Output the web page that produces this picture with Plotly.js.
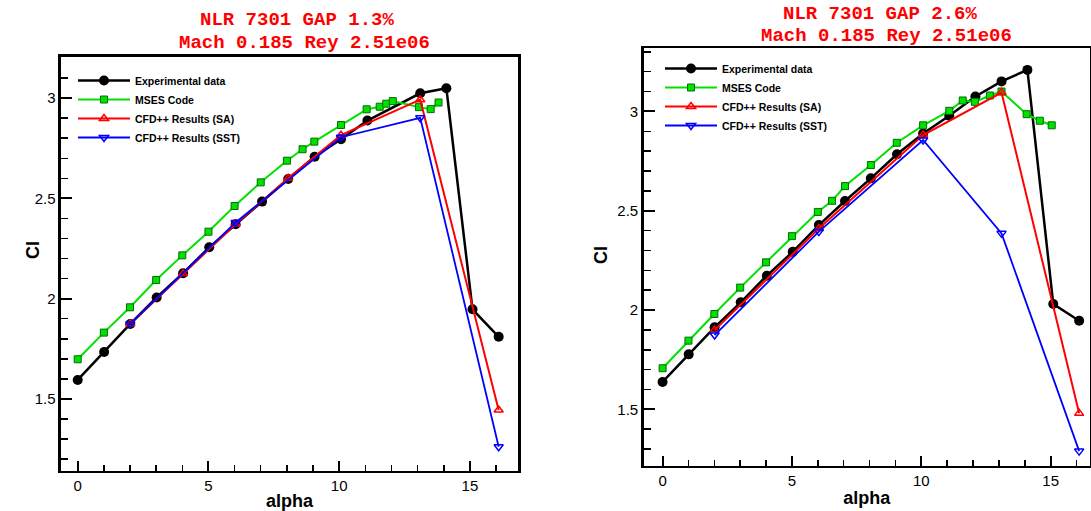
<!DOCTYPE html>
<html>
<head>
<meta charset="utf-8">
<script src="https://cdn.plot.ly/plotly-3.0.1.min.js"></script>
<style>html,body{margin:0;padding:0;background:#fff;}#chart{width:1091px;height:511px;}</style>
</head>
<body>
<div id="chart"></div>
<script>
// ---------- Data: NLR 7301, GAP 1.3% ----------
const exp13Alpha  = [0, 1.01, 2.01, 3.02, 4.03, 5.03, 6.04, 7.05, 8.05, 9.06, 10.07, 11.08, 13.1, 14.1, 15.1, 16.1];
const exp13Cl     = [1.595, 1.734, 1.874, 2.006, 2.127, 2.256, 2.371, 2.484, 2.597, 2.708, 2.795, 2.888, 3.024, 3.049, 1.947, 1.81];
const mses13Alpha = [0, 1, 2, 3, 4, 5, 6, 7, 8, 8.6, 9.05, 10.07, 11.05, 11.55, 11.8, 12.05, 13.05, 13.5, 13.8];
const mses13Cl    = [1.698, 1.831, 1.957, 2.093, 2.216, 2.334, 2.462, 2.58, 2.688, 2.745, 2.783, 2.866, 2.944, 2.957, 2.972, 2.985, 2.955, 2.945, 2.978];
const sa13Alpha   = [2.01, 4.03, 6.04, 8.05, 10.07, 13.1, 16.1];
const sa13Cl      = [1.874, 2.125, 2.372, 2.6, 2.815, 2.992, 1.445];
const sst13Alpha  = [2.01, 6.04, 10.07, 13.1, 16.1];
const sst13Cl     = [1.874, 2.38, 2.805, 2.902, 1.262];

// ---------- Data: NLR 7301, GAP 2.6% ----------
const exp26Alpha  = [0, 1.01, 2.01, 3.02, 4.03, 5.03, 6.04, 7.05, 8.05, 9.06, 10.07, 11.08, 12.09, 13.1, 14.1, 15.1, 16.1];
const exp26Cl     = [1.638, 1.777, 1.913, 2.039, 2.173, 2.293, 2.428, 2.549, 2.663, 2.784, 2.889, 2.978, 3.075, 3.151, 3.209, 2.03, 1.946];
const mses26Alpha = [0, 1, 2, 3, 4, 5, 6, 6.55, 7.05, 8.05, 9.05, 10.07, 11.08, 11.6, 12.07, 12.65, 13.1, 14.07, 14.58, 15.04];
const mses26Cl    = [1.707, 1.846, 1.98, 2.113, 2.24, 2.372, 2.494, 2.55, 2.624, 2.73, 2.842, 2.93, 3.003, 3.055, 3.048, 3.08, 3.1, 2.986, 2.953, 2.93];
const sa26Alpha   = [2.01, 6.04, 10.07, 13.1, 16.1];
const sa26Cl      = [1.899, 2.41, 2.881, 3.095, 1.48];
const sst26Alpha  = [2.01, 6.04, 10.07, 13.1, 16.1];
const sst26Cl     = [1.874, 2.395, 2.856, 2.386, 1.29];

const seriesNames = ['Experimental data', 'MSES Code', 'CFD++ Results (SA)', 'CFD++ Results (SST)'];
const titles13 = ['NLR 7301 GAP 1.3%', 'Mach 0.185 Rey 2.51e06'];
const titles26 = ['NLR 7301 GAP 2.6%', 'Mach 0.185 Rey 2.51e06'];

// ---------- Styles ----------
const GREEN = 'rgb(0,225,0)';
const styles = [
  {line: {color: 'black', width: 2.5}, marker: {symbol: 'circle', size: 10, color: 'black'}},
  {line: {color: GREEN, width: 2}, marker: {symbol: 'square', size: 7, color: GREEN, line: {color: 'rgb(0,110,0)', width: 1}}},
  {line: {color: 'red', width: 2}, marker: {symbol: 'triangle-up-open', size: 8, color: 'red', line: {width: 1.5}}},
  {line: {color: 'blue', width: 1.8}, marker: {symbol: 'triangle-down-open', size: 8, color: 'blue', line: {width: 1.5}}}
];

function makeTraces(sets, xa, ya, legend) {
  return sets.map((s, i) => ({
    type: 'scatter', mode: 'lines+markers',
    x: s[0], y: s[1], name: seriesNames[i],
    xaxis: xa, yaxis: ya, legend: legend,
    line: styles[i].line, marker: styles[i].marker
  }));
}

const traces = [
  ...makeTraces([[exp13Alpha, exp13Cl], [mses13Alpha, mses13Cl], [sa13Alpha, sa13Cl], [sst13Alpha, sst13Cl]], 'x', 'y', 'legend'),
  ...makeTraces([[exp26Alpha, exp26Cl], [mses26Alpha, mses26Cl], [sa26Alpha, sa26Cl], [sst26Alpha, sst26Cl]], 'x2', 'y2', 'legend2')
];

const tickFont = {family: 'Liberation Sans, Arial, sans-serif', size: 15, color: 'black'};
const titleFont = {family: 'Liberation Sans, Arial, sans-serif', size: 18, color: 'black', weight: 'bold'};

function xAxis(domain, range, anchor) {
  return {
    domain: domain, range: range, anchor: anchor,
    showline: true, linewidth: 2.5, linecolor: 'black', mirror: true,
    showgrid: false, zeroline: false,
    tickmode: 'linear', tick0: 0, dtick: 5,
    ticks: 'inside', ticklen: 10, tickwidth: 2, tickcolor: 'black',
    minor: {tickmode: 'linear', dtick: 1, ticks: 'inside', ticklen: 6, tickwidth: 1.5, tickcolor: 'black', showgrid: false},
    tickfont: tickFont,
    title: {text: 'alpha', font: titleFont, standoff: 3}
  };
}
function yAxis(domain, range, anchor) {
  return {
    domain: domain, range: range, anchor: anchor,
    showline: true, linewidth: 2.5, linecolor: 'black', mirror: true,
    showgrid: false, zeroline: false,
    tickmode: 'linear', tick0: 0, dtick: 0.5,
    ticks: 'inside', ticklen: 11, tickwidth: 2, tickcolor: 'black',
    minor: {tickmode: 'linear', dtick: 0.1, ticks: 'inside', ticklen: 7, tickwidth: 1.5, tickcolor: 'black', showgrid: false},
    tickfont: tickFont,
    title: {text: ''}
  };
}

const titleAnnFont = {family: 'Courier New, Liberation Mono, monospace', size: 19, color: 'red', weight: 'bold'};
function textAnn(text, xpx, ypx, font, angle) {
  return {text: text, x: xpx / 1091, y: 1 - ypx / 511, xref: 'paper', yref: 'paper',
          xanchor: 'center', yanchor: 'middle', showarrow: false, font: font, textangle: angle || 0};
}

const legendFont = {family: 'Liberation Sans, Arial, sans-serif', size: 10.5, color: 'black', weight: 'bold'};

const layout = {
  width: 1091, height: 511,
  margin: {l: 0, r: 0, t: 0, b: 0},
  paper_bgcolor: 'white', plot_bgcolor: 'white',
  xaxis: xAxis([0.0559, 0.4748], [-0.64, 16.84], 'y'),
  yaxis: yAxis([0.0783, 0.8885], [1.141, 3.205], 'x'),
  xaxis2: xAxis([0.590, 0.9991], [-0.73, 16.52], 'y2'),
  yaxis2: yAxis([0.0881, 0.906], [1.215, 3.319], 'x2'),
  legend: {x: 73 / 1091, y: 1 - 66 / 511, xanchor: 'left', yanchor: 'top', bgcolor: 'rgba(0,0,0,0)',
           font: legendFont, itemwidth: 52, tracegroupgap: 0},
  legend2: {x: 660 / 1091, y: 1 - 54 / 511, xanchor: 'left', yanchor: 'top', bgcolor: 'rgba(0,0,0,0)',
            font: legendFont, itemwidth: 52, tracegroupgap: 0},
  annotations: [
    textAnn(titles13[0], 297, 20.5, titleAnnFont), textAnn(titles13[1], 304, 43, titleAnnFont),
    textAnn(titles26[0], 880, 13.5, titleAnnFont), textAnn(titles26[1], 886, 36, titleAnnFont),
    textAnn('Cl', 33, 250, titleFont, -90),
    textAnn('Cl', 601, 255, titleFont, -90)
  ],
  showlegend: true
};

Plotly.newPlot('chart', traces, layout, {displayModeBar: false, staticPlot: true});
</script>
</body>
</html>
